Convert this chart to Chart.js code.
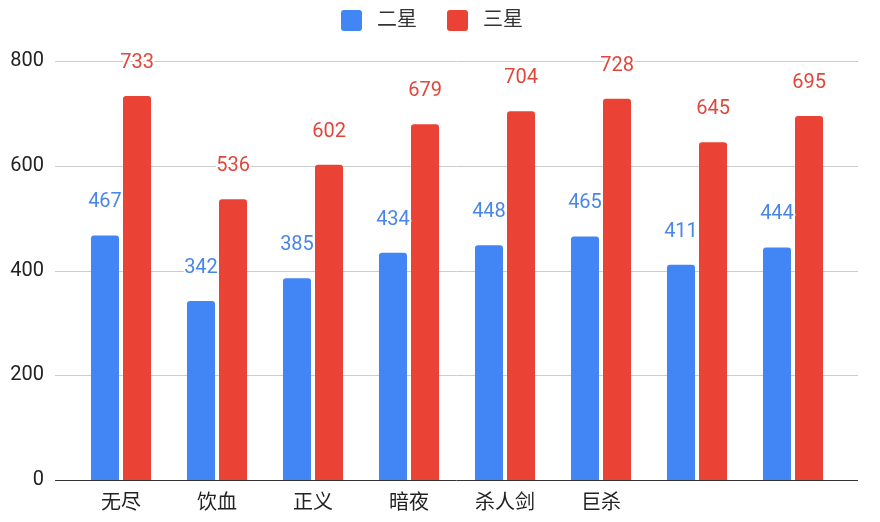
<!DOCTYPE html>
<html><head><meta charset="utf-8">
<script src="https://cdn.jsdelivr.net/npm/chart.js@4"></script>
<style>html,body{margin:0;padding:0;background:#fff}#wrap{width:880px;height:522px}</style>
</head><body><div id="wrap"><canvas id="c" width="880" height="522"></canvas></div>
<script>
const categories = ["无尽", "饮血", "正义", "暗夜", "杀人剑", "巨杀", "", ""];
const twoStar = [467, 342, 385, 434, 448, 465, 411, 444];
const threeStar = [733, 536, 602, 679, 704, 728, 645, 695];
const yTicks = [0, 200, 400, 600, 800];
const FONT = "Roboto, 'Noto Sans CJK SC', sans-serif";

const gridPlugin = {
  id: 'grid',
  beforeDatasetsDraw(chart) {
    const ctx = chart.ctx, y = chart.scales.y;
    ctx.save();
    yTicks.forEach(v => {
      const py = Math.round(y.getPixelForValue(v)) + 0.5;
      ctx.strokeStyle = v === 0 ? '#333' : '#cccccc';
      ctx.lineWidth = 1;
      ctx.beginPath(); ctx.moveTo(55, py); ctx.lineTo(858, py); ctx.stroke();
    });
    ctx.restore();
  }
};
const legendPlugin = {
  id: 'myLegend',
  afterDraw(chart) {
    const ctx = chart.ctx;
    const xs = [341, 447];
    ctx.save();
    ctx.font = "20px " + FONT;
    ctx.textBaseline = 'middle'; ctx.textAlign = 'left';
    chart.data.datasets.forEach((ds, i) => {
      ctx.fillStyle = ds.backgroundColor;
      ctx.beginPath(); ctx.roundRect(xs[i], 10, 21, 21, 3); ctx.fill();
      ctx.fillStyle = '#333';
      ctx.fillText(ds.label, xs[i] + 36, 21);
    });
    ctx.restore();
  }
};
const labelPlugin = {
  id: 'vals',
  afterDatasetsDraw(chart) {
    const ctx = chart.ctx;
    ctx.save();
    ctx.font = "20px " + FONT;
    ctx.textAlign = 'center'; ctx.textBaseline = 'middle';
    ctx.lineJoin = 'round';
    chart.data.datasets.forEach((ds, i) => {
      chart.getDatasetMeta(i).data.forEach((el, j) => {
        const t = String(ds.data[j]);
        ctx.lineWidth = 4; ctx.strokeStyle = '#fff';
        ctx.strokeText(t, el.x, el.y - 33);
        ctx.fillStyle = ds.labelColor;
        ctx.fillText(t, el.x, el.y - 33);
      });
    });
    ctx.restore();
  }
};

new Chart(document.getElementById('c'), {
  type: 'bar',
  data: {
    labels: categories,
    datasets: [
      { label: '二星', data: twoStar, backgroundColor: '#4285F4', labelColor: '#4a86e8', borderRadius: {topLeft: 3, topRight: 3}, borderSkipped: 'bottom', categoryPercentage: 0.667, barPercentage: 0.875 },
      { label: '三星', data: threeStar, backgroundColor: '#EA4335', labelColor: '#e0463a', borderRadius: {topLeft: 3, topRight: 3}, borderSkipped: 'bottom', categoryPercentage: 0.667, barPercentage: 0.875 }
    ]
  },
  options: {
    responsive: false, animation: false,
    layout: { padding: { left: 0, right: 39, top: 61, bottom: 2 } },
    plugins: { legend: { display: false }, tooltip: { enabled: false } },
    scales: {
      x: { grid: { display: false, drawTicks: false }, border: { display: false },
           afterFit: s => { s.height = 40; },
           ticks: { font: { family: FONT, size: 20 }, color: '#222', padding: 12 } },
      y: { min: 0, max: 800, grid: { display: false, drawTicks: false }, border: { display: false },
           afterBuildTicks: s => { s.ticks = yTicks.map(v => ({ value: v })); },
           afterFit: s => { s.width = 73; },
           ticks: { font: { family: FONT, size: 20 }, color: '#222', padding: 29 } }
    }
  },
  plugins: [gridPlugin, labelPlugin, legendPlugin]
});
</script></body></html>
